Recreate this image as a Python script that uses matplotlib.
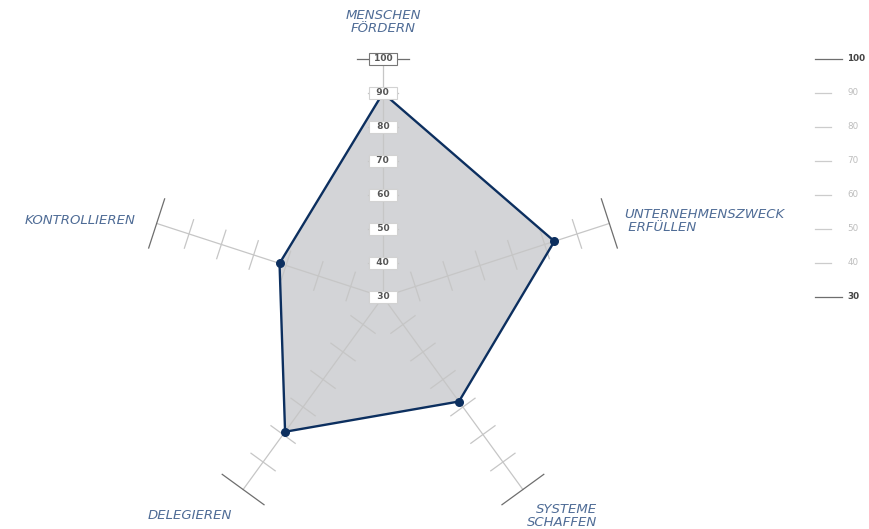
import numpy as np
import matplotlib
matplotlib.use("Agg")
import matplotlib.pyplot as plt

# Data

categories = ["MENSCHEN\nFÖRDERN", "UNTERNEHMENSZWECK\n ERFÜLLEN", "SYSTEME\nSCHAFFEN",
              "DELEGIEREN", "KONTROLLIEREN"]
values = [90, 83, 68, 79, 62]
scale_ticks = [30, 40, 50, 60, 70, 80, 90, 100]
r_min = 30
r_max = 100

#%%

# Geometry helpers: angle of each axis (clockwise from top)

angles = np.pi / 2 - np.arange(len(categories)) * 2 * np.pi / len(categories)


def to_xy(value, ang):
    r = value - r_min
    return r * np.cos(ang), r * np.sin(ang)


#%%

fig = plt.figure(figsize=(8.7, 5.29), dpi=100)
ax = fig.add_axes([0, 0, 1, 1])
ax.set_xlim(-112.65, 143.24)
ax.set_ylim(-68.24, 87.35)
ax.set_aspect("equal")
ax.axis("off")

grid_col = "#c6c6c6"
dark_col = "#6e6e6e"
line_col = "#0c2f5f"
fill_col = "#d3d4d7"
text_col = "#4f6c96"

## Polygon fill

px, py = to_xy(np.array(values), angles)
ax.fill(px, py, color=fill_col, zorder=1, lw=0)

## Axes with ticks

for ang in angles:
    x1, y1 = to_xy(r_max, ang)
    ax.plot([0, x1], [0, y1], color=grid_col, lw=0.9, zorder=2)
    nx, ny = -np.sin(ang), np.cos(ang)
    for t in scale_ticks[1:-1]:
        tx, ty = to_xy(t, ang)
        h = 4.4
        ax.plot([tx - h * nx, tx + h * nx], [ty - h * ny, ty + h * ny],
                color=grid_col, lw=0.9, zorder=2)
    h = 7.6
    ax.plot([x1 - h * nx, x1 + h * nx], [y1 - h * ny, y1 + h * ny],
            color=dark_col, lw=0.9, zorder=2)

## Polygon outline and points

ax.plot(np.append(px, px[0]), np.append(py, py[0]), color=line_col, lw=1.7, zorder=4)
ax.scatter(px, py, s=30, color=line_col, zorder=5)

## Value boxes on top axis

for t in scale_ticks:
    tx, ty = to_xy(t, angles[0])
    edge = "#777777" if t == r_max else "#d2d2d2"
    label = f" {t} " if t == r_max else f"  {t}  "
    ax.text(tx, ty, label, ha="center", va="center", fontsize=6.5,
            fontweight="bold", color="#555555", zorder=6,
            bbox=dict(boxstyle="square,pad=0.2", fc="white", ec=edge, lw=0.8))

## Category labels

lab_kw = dict(fontsize=9.5, style="italic", color=text_col, linespacing=1.0)
ax.text(0, 80.9, categories[0], ha="center", va="center", **lab_kw)
ax.text(70.9, 22.4, categories[1], ha="left", va="center", **lab_kw)
ax.text(63.0, -64.3, categories[2], ha="right", va="center", multialignment="right", **lab_kw)
ax.text(-56.8, -64.4, categories[3], ha="center", va="center", **lab_kw)
ax.text(-72.9, 22.4, categories[4], ha="right", va="center", **lab_kw)

## Scale legend on the right

for t in scale_ticks:
    y = t - r_min
    if t in (r_min, r_max):
        ax.plot([127.1, 134.9], [y, y], color=dark_col, lw=0.9)
        ax.text(136.6, y, str(t), ha="left", va="center", fontsize=6.3,
                fontweight="bold", color="#444444")
    else:
        ax.plot([127.1, 131.8], [y, y], color="#cccccc", lw=0.9)
        ax.text(136.6, y, str(t), ha="left", va="center", fontsize=6.3,
                color="#bdbdbd")

fig.savefig("out.png", dpi=100)
